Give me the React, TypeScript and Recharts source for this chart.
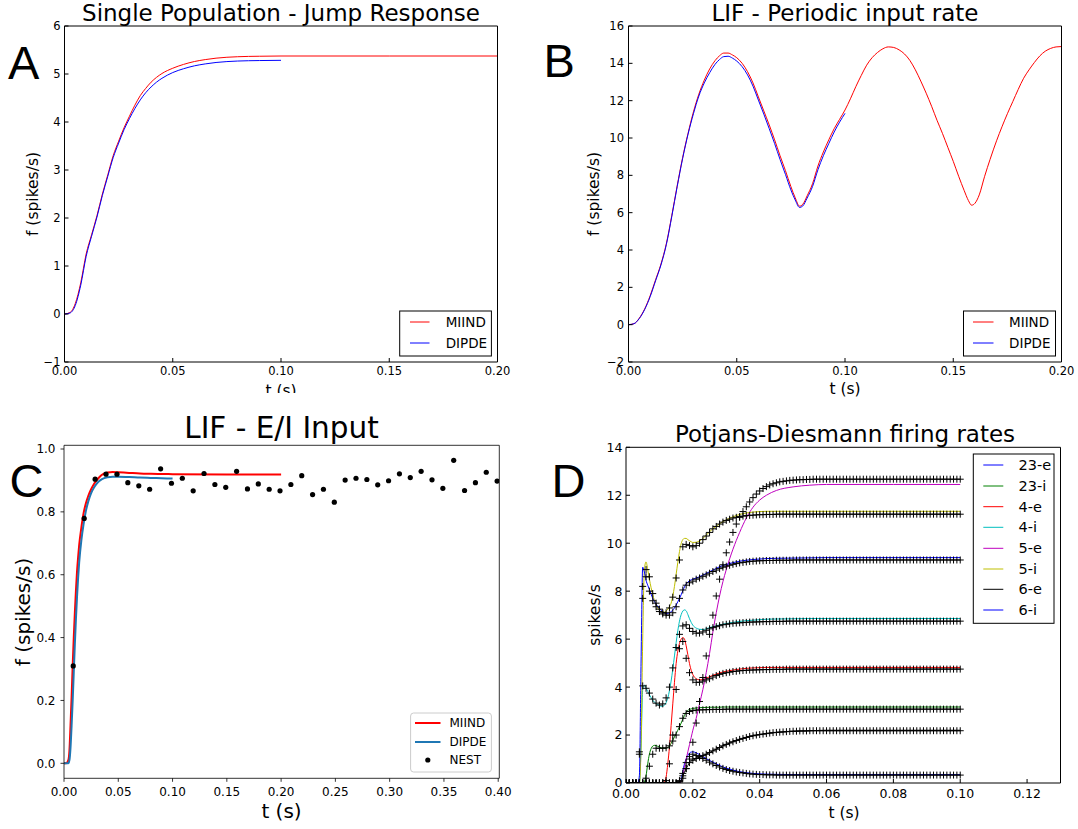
import React from "react";
import { LineChart, Line, XAxis, YAxis } from "recharts";

const FONT = "'DejaVu Sans', sans-serif";
const LETTER_FONT = "'Liberation Sans', Arial, sans-serif";

// ---- A: single population, jump response
const jumpT = [0, 0.0025, 0.005, 0.0075, 0.01, 0.0125, 0.015, 0.0175, 0.02, 0.0225, 0.025, 0.0275, 0.03, 0.0325, 0.035, 0.0375, 0.04, 0.0425, 0.045, 0.05, 0.055, 0.06, 0.065, 0.07, 0.08, 0.09, 0.1, 0.15, 0.2];
const jumpMiind = [0, 0.03, 0.22, 0.65, 1.25, 1.65, 2.05, 2.5, 2.9, 3.3, 3.6, 3.88, 4.12, 4.35, 4.55, 4.7, 4.83, 4.93, 5.01, 5.12, 5.2, 5.26, 5.3, 5.33, 5.36, 5.37, 5.375, 5.375, 5.375];
const jumpDipde = [0, 0.02, 0.18, 0.6, 1.2, 1.62, 2.02, 2.47, 2.87, 3.26, 3.56, 3.84, 4.07, 4.28, 4.46, 4.61, 4.73, 4.83, 4.91, 5.03, 5.11, 5.17, 5.21, 5.24, 5.27, 5.28, 5.285];

// ---- B: LIF, periodic input rate
const periodT = [
  0, 0.0025, 0.005, 0.0075, 0.01, 0.0125, 0.015, 0.0175, 0.02, 0.0225, 0.025, 0.0275, 0.03, 0.0325, 0.035, 0.0375, 0.04,
  0.042, 0.044, 0.046, 0.048,
  0.05, 0.0525, 0.055, 0.0575, 0.06, 0.0625, 0.065, 0.0675, 0.07, 0.0725, 0.075,
  0.077, 0.079, 0.0805, 0.0825,
  0.085, 0.0875, 0.09, 0.0925, 0.095, 0.0975, 0.1, 0.1025, 0.105, 0.1075, 0.11, 0.1125, 0.115, 0.1175, 0.12, 0.1225, 0.125,
  0.1275, 0.13, 0.1325, 0.135, 0.1375, 0.14, 0.1425, 0.145, 0.1475, 0.15, 0.1525, 0.155,
  0.157, 0.1585, 0.16, 0.162, 0.1645, 0.167,
  0.17, 0.1725, 0.175, 0.1775, 0.18, 0.1825, 0.185, 0.1875, 0.19, 0.1925, 0.195, 0.1975, 0.2,
];
const periodMiind = [
  0, 0.05, 0.35, 0.85, 1.55, 2.4, 3.25, 4.35, 5.85, 7.45, 8.95, 10.25, 11.4, 12.35, 13.1, 13.7, 14.15,
  14.4, 14.55, 14.55, 14.45,
  14.3, 14.0, 13.55, 12.95, 12.2, 11.45, 10.7, 9.9, 9.05, 8.25, 7.4,
  6.8, 6.35, 6.45, 6.9,
  7.55, 8.5, 9.25, 9.9, 10.5, 11.0, 11.5, 12.1, 12.75, 13.35, 13.9, 14.3, 14.58, 14.78, 14.88, 14.85, 14.72,
  14.5, 14.15, 13.65, 13.05, 12.4, 11.7, 10.95, 10.25, 9.5, 8.75, 7.95, 7.2,
  6.65, 6.4, 6.5, 6.95, 7.95, 8.85,
  9.85, 10.6, 11.3, 11.95, 12.6, 13.2, 13.65, 14.05, 14.4, 14.65, 14.8, 14.88, 14.9,
];
const periodDipde = [
  0, 0.05, 0.33, 0.82, 1.5, 2.35, 3.2, 4.3, 5.8, 7.4, 8.9, 10.2, 11.3, 12.25, 12.95, 13.5, 13.95,
  14.2, 14.36, 14.38, 14.28,
  14.12, 13.82, 13.38, 12.78, 12.03, 11.28, 10.5, 9.7, 8.85, 8.05, 7.22,
  6.68, 6.28, 6.36, 6.78,
  7.4, 8.3, 9.05, 9.7, 10.32, 10.85, 11.32,
];

// ---- C: LIF, E/I input
const eiT = [0, 0.002, 0.004, 0.005, 0.006, 0.007, 0.008, 0.009, 0.01, 0.011, 0.012, 0.013, 0.014, 0.016, 0.018, 0.02, 0.0225, 0.025, 0.0275, 0.03, 0.0325, 0.035, 0.04, 0.045, 0.05, 0.06, 0.07, 0.08, 0.1, 0.15, 0.2];
const eiMiind = [0, 0, 0.01, 0.04, 0.12, 0.21, 0.31, 0.4, 0.48, 0.55, 0.61, 0.655, 0.695, 0.75, 0.795, 0.825, 0.852, 0.872, 0.888, 0.9, 0.91, 0.918, 0.925, 0.927, 0.926, 0.924, 0.922, 0.921, 0.92, 0.919, 0.919];
const eiDipdeT = [0, 0.002, 0.004, 0.005, 0.006, 0.007, 0.008, 0.009, 0.01, 0.011, 0.012, 0.013, 0.014, 0.016, 0.018, 0.02, 0.0225, 0.025, 0.0275, 0.03, 0.0325, 0.035, 0.04, 0.045, 0.05, 0.06, 0.07, 0.08, 0.09, 0.1];
const eiDipde = [0, 0, 0, 0.01, 0.05, 0.12, 0.2, 0.29, 0.38, 0.46, 0.53, 0.59, 0.64, 0.71, 0.76, 0.8, 0.835, 0.86, 0.877, 0.889, 0.898, 0.904, 0.91, 0.912, 0.912, 0.911, 0.909, 0.908, 0.907, 0.906];
const nestT = [0.0085, 0.0186, 0.0287, 0.0387, 0.0488, 0.0588, 0.0689, 0.0789, 0.089, 0.099, 0.109, 0.119, 0.129, 0.139, 0.149, 0.159, 0.169, 0.179, 0.189, 0.199, 0.209, 0.219, 0.229, 0.239, 0.249, 0.259, 0.269, 0.279, 0.289, 0.299, 0.309, 0.319, 0.329, 0.339, 0.349, 0.359, 0.369, 0.379, 0.389, 0.399];
const nestRate = [0.31, 0.779, 0.904, 0.92, 0.92, 0.893, 0.883, 0.872, 0.937, 0.891, 0.907, 0.867, 0.922, 0.887, 0.878, 0.929, 0.873, 0.889, 0.872, 0.867, 0.887, 0.915, 0.855, 0.872, 0.831, 0.901, 0.907, 0.903, 0.886, 0.899, 0.921, 0.909, 0.929, 0.902, 0.875, 0.964, 0.868, 0.893, 0.926, 0.898];

// ---- D: Potjans-Diesmann firing rates (times in ms)
const pdNames = ["23-e", "23-i", "4-e", "4-i", "5-e", "5-i", "6-e", "6-i"];
const pdColors = ["#0000ff", "#008000", "#ff0000", "#00bfbf", "#bf00bf", "#bfbf00", "#000000", "#0000ff"];
const pdLineMs = [
  0, 1, 2, 3,
  3.5, 4, 4.5, 5, 5.5, 6, 6.5, 7, 7.5,
  8, 8.5, 9, 9.5, 10, 10.5, 11, 11.5, 12,
  12.5, 13, 13.5, 14, 14.5, 15, 15.5, 16, 16.5,
  17, 17.5, 18, 18.5, 19, 19.5,
  20, 21, 22, 23, 24, 25, 26, 27, 28, 29, 30,
  32, 34, 36, 38, 40, 42,
  45, 50, 55, 60,
  70, 80, 90, 100,
];
const pd23e = [
  0, 0, 0, 0,
  0, 0, 0, 0, 0, 0, 0, 0, 0,
  0, 0, 0, 0, 0, 0, 0, 0, 0,
  0, 0, 0, 0, 0, 0, 0, 0, 0.15,
  0.5, 0.8, 1.0, 1.15, 1.25, 1.29,
  1.3, 1.26, 1.18, 1.1, 1.02, 0.94, 0.87, 0.8, 0.73, 0.67, 0.62,
  0.54, 0.47, 0.43, 0.4, 0.38, 0.37,
  0.36, 0.35, 0.35, 0.35,
  0.35, 0.35, 0.35, 0.35,
];
const pd23i = [
  0, 0, 0, 0,
  0, 0, 0, 0, 0.05, 0.3, 0.8, 1.2, 1.43,
  1.54, 1.57, 1.56, 1.53, 1.5, 1.47, 1.45, 1.44, 1.45,
  1.48, 1.55, 1.65, 1.78, 1.92, 2.06, 2.2, 2.34, 2.5,
  2.66, 2.82, 2.95, 3.03, 3.07, 3.09,
  3.11, 3.13, 3.14, 3.15, 3.15, 3.16, 3.16, 3.16, 3.16, 3.17, 3.17,
  3.17, 3.17, 3.17, 3.17, 3.17, 3.17,
  3.17, 3.17, 3.17, 3.17,
  3.17, 3.17, 3.17, 3.17,
];
const pd4e = [
  0, 0, 0, 0,
  0, 0, 0, 0, 0, 0, 0, 0, 0,
  0, 0, 0, 0, 0, 0, 0, 0.05, 0.25,
  0.8, 1.5, 2.4, 3.3, 4.2, 4.98, 5.5, 5.82, 6.0,
  6.07, 6.0, 5.72, 5.35, 4.98, 4.7,
  4.52, 4.35, 4.3, 4.31, 4.37, 4.43, 4.49, 4.54, 4.59, 4.63, 4.66,
  4.71, 4.75, 4.78, 4.8, 4.81, 4.82,
  4.82, 4.82, 4.82, 4.82,
  4.82, 4.82, 4.82, 4.82,
];
const pd4i = [
  0, 0, 0, 0,
  0, 0, 1.5, 3.9, 4.08, 3.96, 3.82, 3.68, 3.56,
  3.45, 3.37, 3.31, 3.27, 3.23, 3.2, 3.2, 3.25, 3.35,
  3.55, 3.85, 4.25, 4.75, 5.3, 5.85, 6.35, 6.75, 7.02,
  7.17, 7.22, 7.18, 7.03, 6.85, 6.7,
  6.58, 6.46, 6.41, 6.4, 6.43, 6.48, 6.52, 6.56, 6.59, 6.62, 6.65,
  6.7, 6.74, 6.77, 6.79, 6.81, 6.83,
  6.84, 6.85, 6.86, 6.86,
  6.86, 6.86, 6.86, 6.86,
];
const pd5e = [
  0, 0, 0, 0,
  0, 0, 0, 0, 0, 0, 0, 0, 0,
  0, 0, 0, 0, 0, 0, 0, 0, 0,
  0, 0, 0, 0, 0, 0, 0, 0, 0.05,
  0.3, 0.65, 1.0, 1.3, 1.6, 1.9,
  2.2, 2.7, 3.3, 3.9, 4.6, 5.4, 6.3, 7.1, 7.8, 8.4, 8.9,
  9.75, 10.45, 11.05, 11.5, 11.8, 12.0,
  12.2, 12.35, 12.42, 12.45,
  12.45, 12.45, 12.45, 12.45,
];
const pd5i = [
  0, 0, 0, 0,
  0, 0, 1.5, 6.0, 8.9, 9.22, 8.9, 8.5, 8.15,
  7.85, 7.62, 7.44, 7.3, 7.2, 7.14, 7.12, 7.13, 7.17,
  7.25, 7.35, 7.5, 7.8, 8.2, 8.7, 9.2, 9.65, 9.98,
  10.15, 10.2, 10.2, 10.15, 10.1, 10.06,
  10.03, 10.04, 10.1, 10.2, 10.33, 10.48, 10.6, 10.71, 10.81, 10.9, 10.98,
  11.1, 11.2, 11.26, 11.3, 11.32, 11.33,
  11.33, 11.33, 11.33, 11.33,
  11.33, 11.33, 11.33, 11.33,
];
const pd6e = [
  0, 0, 0, 0,
  0, 0, 0, 0, 0, 0, 0, 0, 0,
  0, 0, 0, 0, 0, 0, 0, 0, 0,
  0, 0, 0, 0, 0, 0, 0, 0, 0.1,
  0.3, 0.45, 0.6, 0.73, 0.85, 0.91,
  0.95, 1.02, 1.08, 1.14, 1.2, 1.27, 1.34, 1.41, 1.48, 1.55, 1.61,
  1.72, 1.82, 1.9, 1.97, 2.02, 2.06,
  2.11, 2.16, 2.18, 2.2,
  2.2, 2.2, 2.2, 2.2,
];
const pd6i = [
  0, 0, 0, 0,
  0, 0.3, 5.0, 9.0, 8.8, 8.45, 8.25, 8.07, 7.88,
  7.7, 7.57, 7.46, 7.36, 7.28, 7.2, 7.14, 7.1, 7.07,
  7.07, 7.1, 7.14, 7.22, 7.3, 7.42, 7.56, 7.7, 7.85,
  8.02, 8.18, 8.3, 8.38, 8.44, 8.47,
  8.5, 8.55, 8.6, 8.67, 8.74, 8.81, 8.88, 8.95, 9.02, 9.07, 9.11,
  9.19, 9.25, 9.29, 9.32, 9.34, 9.36,
  9.37, 9.38, 9.39, 9.4,
  9.4, 9.4, 9.4, 9.4,
];

// NEST simulation, one sample per ms
const nestMs = [
  0, 1, 2, 3, 4, 5, 6, 7, 8, 9,
  10, 11, 12, 13, 14, 15, 16, 17, 18, 19,
  20, 21, 22, 23, 24, 25, 26, 27, 28, 29,
  30, 31, 32, 33, 34, 35, 36, 37, 38, 39,
  40, 41, 42, 43, 44, 45, 46, 47, 48, 49,
  50, 51, 52, 53, 54, 55, 56, 57, 58, 59,
  60, 61, 62, 63, 64, 65, 66, 67, 68, 69,
  70, 71, 72, 73, 74, 75, 76, 77, 78, 79,
  80, 81, 82, 83, 84, 85, 86, 87, 88, 89,
  90, 91, 92, 93, 94, 95, 96, 97, 98, 99, 100,
];
const nest23e = [
  0, 0, 0, 0, 0, 0, 0, 0, 0, 0,
  0, 0, 0, 0, 0, 0, 0.1, 0.4, 0.85, 1.1,
  1.2, 1.15, 1.1, 1.02, 0.95, 0.87, 0.8, 0.73, 0.67, 0.61,
  0.56, 0.52, 0.49, 0.46, 0.44, 0.42, 0.4, 0.38, 0.37, 0.36,
  0.35, 0.35, 0.34, 0.34, 0.34, 0.33, 0.33, 0.33, 0.33, 0.33,
  0.33, 0.33, 0.33, 0.33, 0.33, 0.33, 0.33, 0.33, 0.33, 0.33,
  0.33, 0.33, 0.33, 0.33, 0.33, 0.33, 0.33, 0.33, 0.33, 0.33,
  0.33, 0.33, 0.33, 0.33, 0.33, 0.33, 0.33, 0.33, 0.33, 0.33,
  0.33, 0.33, 0.33, 0.33, 0.33, 0.33, 0.33, 0.33, 0.33, 0.33,
  0.33, 0.33, 0.33, 0.33, 0.33, 0.33, 0.33, 0.33, 0.33, 0.33, 0.33,
];
const nest23i = [
  0, 0, 0, 0, 0, 0, 0.2, 0.7, 1.2, 1.45,
  1.45, 1.45, 1.47, 1.55, 1.75, 2.0, 2.35, 2.7, 2.9, 2.98,
  3.02, 3.04, 3.05, 3.05, 3.06, 3.06, 3.07, 3.07, 3.07, 3.07,
  3.08, 3.08, 3.08, 3.08, 3.08, 3.08, 3.08, 3.08, 3.08, 3.08,
  3.08, 3.08, 3.08, 3.08, 3.08, 3.08, 3.08, 3.08, 3.08, 3.08,
  3.08, 3.08, 3.08, 3.08, 3.08, 3.08, 3.08, 3.08, 3.08, 3.08,
  3.08, 3.08, 3.08, 3.08, 3.08, 3.08, 3.08, 3.08, 3.08, 3.08,
  3.08, 3.08, 3.08, 3.08, 3.08, 3.08, 3.08, 3.08, 3.08, 3.08,
  3.08, 3.08, 3.08, 3.08, 3.08, 3.08, 3.08, 3.08, 3.08, 3.08,
  3.08, 3.08, 3.08, 3.08, 3.08, 3.08, 3.08, 3.08, 3.08, 3.08, 3.08,
];
const nest4e = [
  0, 0, 0, 0, 0, 0, 0, 0, 0, 0,
  0, 0, 0.1, 0.8, 2.0, 3.9, 5.6, 5.9, 5.2, 4.6,
  4.3, 4.2, 4.2, 4.25, 4.3, 4.35, 4.42, 4.48, 4.53, 4.57,
  4.6, 4.62, 4.65, 4.66, 4.68, 4.69, 4.7, 4.71, 4.71, 4.72,
  4.72, 4.73, 4.73, 4.73, 4.74, 4.74, 4.74, 4.74, 4.75, 4.75,
  4.75, 4.75, 4.75, 4.75, 4.75, 4.75, 4.75, 4.75, 4.75, 4.75,
  4.75, 4.75, 4.75, 4.75, 4.75, 4.75, 4.75, 4.75, 4.75, 4.75,
  4.75, 4.75, 4.75, 4.75, 4.75, 4.75, 4.75, 4.75, 4.75, 4.75,
  4.75, 4.75, 4.75, 4.75, 4.75, 4.75, 4.75, 4.75, 4.75, 4.75,
  4.75, 4.75, 4.75, 4.75, 4.75, 4.75, 4.75, 4.75, 4.75, 4.75, 4.75,
];
const nest4i = [
  0, 0, 0, 0, 0, 4.05, 3.95, 3.75, 3.5, 3.33,
  3.25, 3.3, 3.55, 4.0, 4.8, 5.65, 6.2, 6.55, 6.6, 6.45,
  6.32, 6.25, 6.25, 6.3, 6.37, 6.43, 6.48, 6.52, 6.56, 6.6,
  6.62, 6.64, 6.66, 6.67, 6.68, 6.69, 6.7, 6.71, 6.71, 6.72,
  6.72, 6.73, 6.73, 6.73, 6.74, 6.74, 6.74, 6.74, 6.75, 6.75,
  6.75, 6.75, 6.75, 6.75, 6.75, 6.75, 6.75, 6.75, 6.75, 6.75,
  6.75, 6.75, 6.75, 6.75, 6.75, 6.75, 6.75, 6.75, 6.75, 6.75,
  6.75, 6.75, 6.75, 6.75, 6.75, 6.75, 6.75, 6.75, 6.75, 6.75,
  6.75, 6.75, 6.75, 6.75, 6.75, 6.75, 6.75, 6.75, 6.75, 6.75,
  6.75, 6.75, 6.75, 6.75, 6.75, 6.75, 6.75, 6.75, 6.75, 6.75, 6.75,
];
const nest5e = [
  0, 0, 0, 0, 0, 0, 0, 0, 0, 0,
  0, 0, 0, 0, 0, 0, 0.05, 0.2, 0.6, 1.0,
  1.7, 2.5, 3.4, 4.4, 5.3, 6.2, 7.0, 7.8, 8.5, 9.1,
  9.6, 10.05, 10.45, 10.8, 11.08, 11.32, 11.52, 11.72, 11.9, 12.05,
  12.18, 12.28, 12.36, 12.43, 12.48, 12.52, 12.56, 12.58, 12.6, 12.62,
  12.63, 12.64, 12.65, 12.65, 12.66, 12.66, 12.67, 12.67, 12.67, 12.67,
  12.67, 12.67, 12.67, 12.67, 12.67, 12.67, 12.67, 12.67, 12.67, 12.67,
  12.67, 12.67, 12.67, 12.67, 12.67, 12.67, 12.67, 12.67, 12.67, 12.67,
  12.67, 12.67, 12.67, 12.67, 12.67, 12.67, 12.67, 12.67, 12.67, 12.67,
  12.67, 12.67, 12.67, 12.67, 12.67, 12.67, 12.67, 12.67, 12.67, 12.67, 12.67,
];
const nest5i = [
  0, 0, 0, 0, 1.3, 8.2, 8.9, 8.6, 7.9, 7.5,
  7.25, 7.1, 7.1, 7.3, 7.75, 8.55, 9.3, 9.85, 9.95, 9.9,
  9.85, 9.9, 10.0, 10.15, 10.3, 10.45, 10.6, 10.7, 10.8, 10.88,
  10.95, 11.0, 11.05, 11.08, 11.11, 11.13, 11.15, 11.16, 11.17, 11.18,
  11.19, 11.19, 11.2, 11.2, 11.2, 11.21, 11.21, 11.21, 11.21, 11.21,
  11.21, 11.21, 11.21, 11.21, 11.21, 11.21, 11.21, 11.21, 11.21, 11.21,
  11.21, 11.21, 11.21, 11.21, 11.21, 11.21, 11.21, 11.21, 11.21, 11.21,
  11.21, 11.21, 11.21, 11.21, 11.21, 11.21, 11.21, 11.21, 11.21, 11.21,
  11.21, 11.21, 11.21, 11.21, 11.21, 11.21, 11.21, 11.21, 11.21, 11.21,
  11.21, 11.21, 11.21, 11.21, 11.21, 11.21, 11.21, 11.21, 11.21, 11.21, 11.21,
];
const nest6e = [
  0, 0, 0, 0, 0, 0, 0, 0, 0, 0,
  0, 0, 0, 0, 0, 0, 0.05, 0.3, 0.6, 0.85,
  0.95, 1.02, 1.08, 1.14, 1.2, 1.27, 1.34, 1.41, 1.48, 1.55,
  1.61, 1.67, 1.72, 1.77, 1.82, 1.86, 1.9, 1.94, 1.97, 2.0,
  2.02, 2.04, 2.06, 2.08, 2.1, 2.11, 2.12, 2.13, 2.14, 2.15,
  2.16, 2.16, 2.17, 2.17, 2.17, 2.18, 2.18, 2.18, 2.18, 2.18,
  2.18, 2.18, 2.18, 2.18, 2.18, 2.18, 2.18, 2.18, 2.18, 2.18,
  2.18, 2.18, 2.18, 2.18, 2.18, 2.18, 2.18, 2.18, 2.18, 2.18,
  2.18, 2.18, 2.18, 2.18, 2.18, 2.18, 2.18, 2.18, 2.18, 2.18,
  2.18, 2.18, 2.18, 2.18, 2.18, 2.18, 2.18, 2.18, 2.18, 2.18, 2.18,
];
const nest6i = [
  0, 0, 0, 0, 1.2, 7.7, 8.6, 8.0, 7.6, 7.35,
  7.15, 7.05, 7.0, 7.0, 7.1, 7.35, 7.7, 8.05, 8.25, 8.35,
  8.42, 8.5, 8.55, 8.62, 8.68, 8.75, 8.82, 8.88, 8.94, 9.0,
  9.04, 9.08, 9.12, 9.15, 9.18, 9.2, 9.22, 9.24, 9.25, 9.26,
  9.27, 9.27, 9.28, 9.28, 9.28, 9.29, 9.29, 9.29, 9.29, 9.29,
  9.3, 9.3, 9.3, 9.3, 9.3, 9.3, 9.3, 9.3, 9.3, 9.3,
  9.3, 9.3, 9.3, 9.3, 9.3, 9.3, 9.3, 9.3, 9.3, 9.3,
  9.3, 9.3, 9.3, 9.3, 9.3, 9.3, 9.3, 9.3, 9.3, 9.3,
  9.3, 9.3, 9.3, 9.3, 9.3, 9.3, 9.3, 9.3, 9.3, 9.3,
  9.3, 9.3, 9.3, 9.3, 9.3, 9.3, 9.3, 9.3, 9.3, 9.3, 9.3,
];
const pdLines = [pd23e, pd23i, pd4e, pd4i, pd5e, pd5i, pd6e, pd6i];
const pdNest = [nest23e, nest23i, nest4e, nest4i, nest5e, nest5i, nest6e, nest6i];

// ---- helpers
const pts = (ts: number[], vs: number[]) => vs.map((v, i) => ({ t: ts[i], v }));
const toSec = (a: number[]) => a.map((m) => m / 1000);
const minus = (v: number) => (v < 0 ? "\u2212" + Math.abs(v) : String(v));
const fix = (d: number) => (v: number) => v.toFixed(d);

type Frame = {
  xDomain: [number, number];
  yDomain: [number, number];
  xTicks: number[];
  yTicks: number[];
  xFmt: (v: number) => string;
  yFmt: (v: number) => string;
  fs: number;
  xMargin: number;
  yMargin: number;
};

// matplotlib "classic": ticks pointing inwards on all four sides
function classicAxes(f: Frame) {
  const tickStyle = { fill: "#000", fontSize: f.fs, fontFamily: FONT };
  return [
    <XAxis key="xb" xAxisId="b" type="number" dataKey="t" domain={f.xDomain} ticks={f.xTicks} interval={0} allowDataOverflow height={1} stroke="#000" tickSize={-4} tickMargin={f.xMargin} tick={tickStyle} tickFormatter={f.xFmt} />,
    <XAxis key="xt" xAxisId="t" orientation="top" type="number" dataKey="t" domain={f.xDomain} ticks={f.xTicks} interval={0} allowDataOverflow height={1} stroke="#000" tickSize={-4} tick={false} />,
    <YAxis key="yl" yAxisId="l" type="number" domain={f.yDomain} ticks={f.yTicks} interval={0} allowDataOverflow width={1} stroke="#000" tickSize={-4} tickMargin={f.yMargin} tick={tickStyle} tickFormatter={f.yFmt} />,
    <YAxis key="yr" yAxisId="r" orientation="right" type="number" domain={f.yDomain} ticks={f.yTicks} interval={0} allowDataOverflow width={1} stroke="#000" tickSize={-4} tick={false} />,
  ];
}

// matplotlib 2.x: outward ticks, left/bottom only
function modernAxes(f: Frame) {
  const tickStyle = { fill: "#000", fontSize: f.fs, fontFamily: FONT };
  const ln = { stroke: "#000", strokeWidth: 0.8 };
  return [
    <XAxis key="xb" xAxisId="b" type="number" dataKey="t" domain={f.xDomain} ticks={f.xTicks} interval={0} allowDataOverflow height={1} axisLine={ln} tickLine={ln} tickSize={3.5} tickMargin={f.xMargin} tick={tickStyle} tickFormatter={f.xFmt} />,
    <XAxis key="xt" xAxisId="t" orientation="top" type="number" dataKey="t" domain={f.xDomain} ticks={f.xTicks} interval={0} allowDataOverflow height={1} axisLine={ln} tickLine={false} tick={false} />,
    <YAxis key="yl" yAxisId="l" type="number" domain={f.yDomain} ticks={f.yTicks} interval={0} allowDataOverflow width={1} axisLine={ln} tickLine={ln} tickSize={3.5} tickMargin={f.yMargin} tick={tickStyle} tickFormatter={f.yFmt} />,
    <YAxis key="yr" yAxisId="r" orientation="right" type="number" domain={f.yDomain} ticks={f.yTicks} interval={0} allowDataOverflow width={1} axisLine={ln} tickLine={false} tick={false} />,
  ];
}

function curve(key: string, data: { t: number; v: number }[], color: string, width = 1) {
  return (
    <Line key={key} xAxisId="b" yAxisId="l" data={data} dataKey="v" type="monotone" stroke={color} strokeWidth={width} dot={false} activeDot={false} isAnimationActive={false} />
  );
}

const PlusDot = (p: any) => {
  const { cx, cy } = p;
  if (!Number.isFinite(cx) || !Number.isFinite(cy)) return <g />;
  return <path d={`M${cx - 3.5},${cy}H${cx + 3.5}M${cx},${cy - 3.5}V${cy + 3.5}`} stroke="#000" strokeWidth={1} fill="none" />;
};

const NestDot = (p: any) => {
  const { cx, cy } = p;
  if (!Number.isFinite(cx) || !Number.isFinite(cy)) return <g />;
  return <circle cx={cx} cy={cy} r={2.6} fill="#000" stroke="none" />;
};

const txt = { fontFamily: FONT, fill: "#000" } as const;

function ClassicLegend({ x, y, w, h, lineX, textX, rows, fs }: { x: number; y: number; w: number; h: number; lineX: [number, number]; textX: number; rows: { label: string; color: string; y: number }[]; fs: number }) {
  return (
    <g>
      <rect x={x} y={y} width={w} height={h} fill="#fff" stroke="#000" strokeWidth={1} />
      {rows.map((r) => (
        <g key={r.label}>
          <line x1={lineX[0]} x2={lineX[1]} y1={r.y} y2={r.y} stroke={r.color} strokeWidth={1} />
          <text x={textX} y={r.y} dominantBaseline="central" fontSize={fs} {...txt}>{r.label}</text>
        </g>
      ))}
    </g>
  );
}

export default function App() {
  const frameA: Frame = { xDomain: [0, 0.2], yDomain: [-1, 6], xTicks: [0, 0.05, 0.1, 0.15, 0.2], yTicks: [-1, 0, 1, 2, 3, 4, 5, 6], xFmt: fix(2), yFmt: minus, fs: 11.5, xMargin: 9, yMargin: 8 };
  const frameB: Frame = { xDomain: [0, 0.2], yDomain: [-2, 16], xTicks: [0, 0.05, 0.1, 0.15, 0.2], yTicks: [-2, 0, 2, 4, 6, 8, 10, 12, 14, 16], xFmt: fix(2), yFmt: minus, fs: 11.5, xMargin: 9, yMargin: 8.5 };
  const frameC: Frame = { xDomain: [0, 0.401], yDomain: [-0.0477, 1.0118], xTicks: [0, 0.05, 0.1, 0.15, 0.2, 0.25, 0.3, 0.35, 0.4], yTicks: [0, 0.2, 0.4, 0.6, 0.8, 1.0], xFmt: fix(2), yFmt: fix(1), fs: 12, xMargin: 6, yMargin: 5 };
  const frameD: Frame = { xDomain: [0, 0.13], yDomain: [0, 14], xTicks: [0, 0.02, 0.04, 0.06, 0.08, 0.1, 0.12], yTicks: [0, 2, 4, 6, 8, 10, 12, 14], xFmt: fix(2), yFmt: (v) => String(v), fs: 12.5, xMargin: 10, yMargin: 7.5 };

  const pdLineT = toSec(pdLineMs);
  const nestSec = toSec(nestMs);

  return (
    <div style={{ position: "absolute", left: 0, top: 0, width: 1078, height: 829, background: "#fff", overflow: "hidden" }}>
      {/* A */}
      <div style={{ position: "absolute", left: 0, top: 0, width: 540, height: 393, overflow: "hidden" }}>
        <LineChart width={540} height={393} margin={{ top: 25, right: 41.5, bottom: 30, left: 63.5 }}>
          {classicAxes(frameA)}
          {curve("miind", pts(jumpT, jumpMiind), "#ff0000")}
          {curve("dipde", pts(jumpT, jumpDipde), "#0000ff")}
        </LineChart>
      </div>
      {/* B */}
      <div style={{ position: "absolute", left: 540, top: 0, width: 538, height: 400 }}>
        <LineChart width={538} height={400} margin={{ top: 25, right: 15.5, bottom: 37, left: 87.5 }}>
          {classicAxes(frameB)}
          {curve("miind", pts(periodT, periodMiind), "#ff0000")}
          {curve("dipde", pts(periodT, periodDipde), "#0000ff")}
        </LineChart>
      </div>
      {/* C */}
      <div style={{ position: "absolute", left: 0, top: 400, width: 540, height: 429 }}>
        <LineChart width={540} height={429} margin={{ top: 44.3, right: 39.7, bottom: 49.7, left: 63 }}>
          {modernAxes(frameC)}
          {curve("miind", pts(eiT, eiMiind), "#ff0000", 2)}
          {curve("dipde", pts(eiDipdeT, eiDipde), "#1f77b4", 2)}
          <Line xAxisId="b" yAxisId="l" data={pts(nestT, nestRate)} dataKey="v" stroke="none" dot={NestDot} activeDot={false} isAnimationActive={false} />
        </LineChart>
      </div>
      {/* D */}
      <div style={{ position: "absolute", left: 540, top: 400, width: 538, height: 429 }}>
        <LineChart width={538} height={429} margin={{ top: 46.3, right: 16.5, bottom: 45, left: 85 }}>
          {classicAxes(frameD)}
          {pdNest.map((vals, i) => (
            <Line key={"n" + i} xAxisId="b" yAxisId="l" data={pts(nestSec, vals)} dataKey="v" stroke="none" dot={PlusDot} activeDot={false} isAnimationActive={false} />
          ))}
          {pdLines.map((vals, i) => curve("l" + i, pts(pdLineT, vals), pdColors[i]))}
        </LineChart>
      </div>

      {/* titles, labels, legends */}
      <svg width={1078} height={829} style={{ position: "absolute", left: 0, top: 0, pointerEvents: "none" }}>
        <defs>
          <clipPath id="clipA">
            <rect x={0} y={0} width={540} height={393} />
          </clipPath>
        </defs>

        <text x={281} y={21} textAnchor="middle" fontSize={23} {...txt}>Single Population - Jump Response</text>
        <text x={845} y={21} textAnchor="middle" fontSize={23} {...txt}>LIF - Periodic input rate</text>
        <text x={281.5} y={438} textAnchor="middle" fontSize={29.5} {...txt}>LIF - E/I Input</text>
        <text x={845} y={442} textAnchor="middle" fontSize={23} {...txt}>Potjans-Diesmann firing rates</text>

        <text x={8} y={79} fontSize={47} fontFamily={LETTER_FONT} fill="#000">A</text>
        <text x={543.5} y={77} fontSize={47} fontFamily={LETTER_FONT} fill="#000">B</text>
        <text x={9.5} y={497} fontSize={47} fontFamily={LETTER_FONT} fill="#000">C</text>
        <text x={551.5} y={497} fontSize={47} fontFamily={LETTER_FONT} fill="#000">D</text>

        <text transform="translate(33,194) rotate(-90)" textAnchor="middle" dominantBaseline="central" fontSize={15.5} {...txt}>f (spikes/s)</text>
        <text transform="translate(593.5,194) rotate(-90)" textAnchor="middle" dominantBaseline="central" fontSize={15.5} {...txt}>f (spikes/s)</text>
        <text transform="translate(23,612) rotate(-90)" textAnchor="middle" dominantBaseline="central" fontSize={20} {...txt}>f (spikes/s)</text>
        <text transform="translate(595,615) rotate(-90)" textAnchor="middle" dominantBaseline="central" fontSize={15.5} {...txt}>spikes/s</text>

        <g clipPath="url(#clipA)">
          <text x={281} y={390.5} textAnchor="middle" dominantBaseline="central" fontSize={15.5} {...txt}>t (s)</text>
        </g>
        <text x={845} y={389} textAnchor="middle" dominantBaseline="central" fontSize={15.5} {...txt}>t (s)</text>
        <text x={281.5} y={811} textAnchor="middle" dominantBaseline="central" fontSize={20} {...txt}>t (s)</text>
        <text x={844} y={813} textAnchor="middle" dominantBaseline="central" fontSize={15.5} {...txt}>t (s)</text>

        <ClassicLegend x={399.7} y={311} w={91.7} h={45} lineX={[410, 429.5]} textX={445.7} fs={13.5}
          rows={[{ label: "MIIND", color: "#ff0000", y: 322 }, { label: "DIPDE", color: "#0000ff", y: 343 }]} />
        <ClassicLegend x={963.5} y={311} w={92} h={45} lineX={[973, 993.5]} textX={1009} fs={13.5}
          rows={[{ label: "MIIND", color: "#ff0000", y: 322 }, { label: "DIPDE", color: "#0000ff", y: 343 }]} />
        <ClassicLegend x={973.3} y={454} w={80.7} h={169.3} lineX={[983.3, 1003.3]} textX={1018.5} fs={14.5}
          rows={pdNames.map((n, i) => ({ label: n, color: pdColors[i], y: [465, 486, 506.7, 527.3, 548.3, 569, 589.3, 610][i] }))} />

        <g>
          <rect x={410.6} y={713} width={80.8} height={59} rx={3} fill="#fff" fillOpacity={0.8} stroke="#cccccc" strokeWidth={1} />
          <line x1={415} x2={440.5} y1={723} y2={723} stroke="#ff0000" strokeWidth={2} />
          <text x={449.5} y={723} dominantBaseline="central" fontSize={12} {...txt}>MIIND</text>
          <line x1={415} x2={440.5} y1={742} y2={742} stroke="#1f77b4" strokeWidth={2} />
          <text x={449.5} y={742} dominantBaseline="central" fontSize={12} {...txt}>DIPDE</text>
          <circle cx={427.8} cy={760} r={2.6} fill="#000" />
          <text x={449.5} y={760} dominantBaseline="central" fontSize={12} {...txt}>NEST</text>
        </g>
      </svg>
    </div>
  );
}
